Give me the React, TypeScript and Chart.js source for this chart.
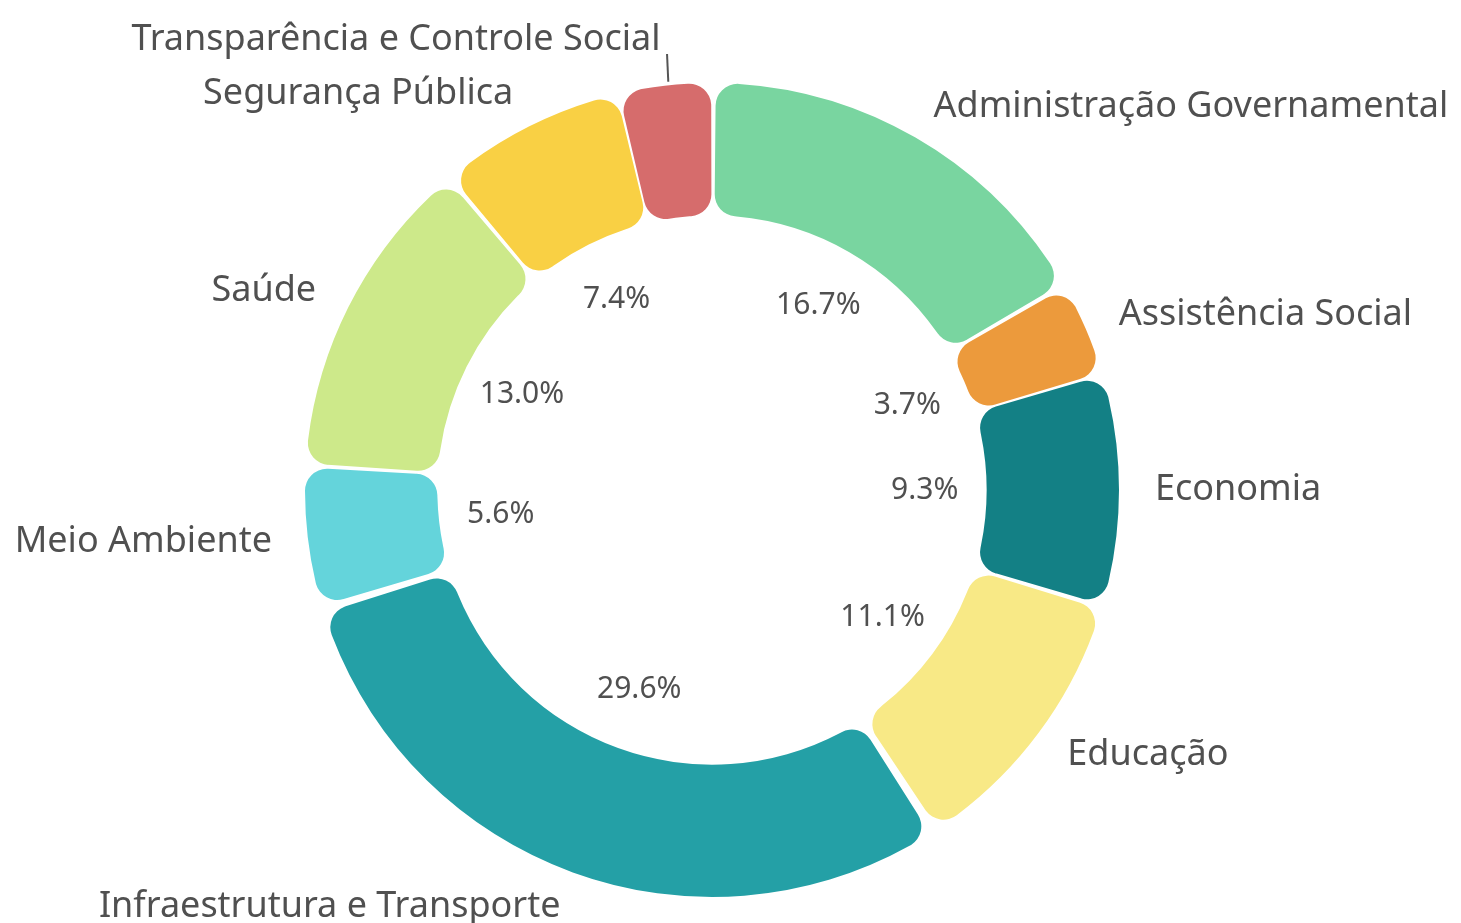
import React, { useEffect, useRef } from "react";
import { Chart, registerables } from "chart.js";

Chart.register(...registerables);

const categories = [
  "Administração Governamental",
  "Assistência Social",
  "Economia",
  "Educação",
  "Infraestrutura e Transporte",
  "Meio Ambiente",
  "Saúde",
  "Segurança Pública",
  "Transparência e Controle Social",
];
const counts = [9, 2, 5, 6, 16, 3, 7, 4, 2];
const colors = [
  "#79d5a0",
  "#ec9a3c",
  "#138085",
  "#f8e986",
  "#24a0a6",
  "#64d4db",
  "#cde98a",
  "#f9d044",
  "#d66c6c",
];
const showPercent = [true, true, true, true, true, true, true, true, false];

const TEXT_COLOR = "#505050";
const FONT_FAMILY = "'Noto Sans', 'Open Sans', sans-serif";

const labelPlugin = {
  id: "donutLabels",
  afterDatasetsDraw(chart: any) {
    const meta = chart.getDatasetMeta(0);
    const ctx = chart.ctx as CanvasRenderingContext2D;
    const total = counts.reduce((a, b) => a + b, 0);
    ctx.save();
    meta.data.forEach((arc: any, i: number) => {
      const { x, y, startAngle, endAngle, innerRadius, outerRadius } = arc.getProps(
        ["x", "y", "startAngle", "endAngle", "innerRadius", "outerRadius"],
        true
      );
      const mid = (startAngle + endAngle) / 2;
      const cos = Math.cos(mid);
      const sin = Math.sin(mid);
      if (showPercent[i]) {
        const pr = innerRadius - 56;
        const pct = ((counts[i] / total) * 100).toFixed(1) + "%";
        ctx.font = `30px ${FONT_FAMILY}`;
        ctx.fillStyle = TEXT_COLOR;
        ctx.textAlign = "center";
        ctx.textBaseline = "middle";
        ctx.fillText(pct, x + cos * pr, y + sin * pr);
      }
      const lr = outerRadius + 42;
      const lx = x + cos * lr;
      let ly = y + sin * lr;
      const nearTop = Math.abs(cos) < 0.2 && sin < 0;
      if (nearTop) {
        ly -= 10;
        ctx.strokeStyle = "#555";
        ctx.lineWidth = 2;
        ctx.beginPath();
        ctx.moveTo(x + cos * (outerRadius + 10) + 4, y + sin * (outerRadius + 10));
        ctx.lineTo(x + cos * (outerRadius + 38) + 6, y + sin * (outerRadius + 38));
        ctx.stroke();
      }
      ctx.font = `36px ${FONT_FAMILY}`;
      ctx.fillStyle = TEXT_COLOR;
      ctx.textBaseline = "middle";
      ctx.textAlign = cos >= 0 && !nearTop ? "left" : "right";
      ctx.fillText(categories[i], lx, ly);
    });
    ctx.restore();
  },
};

export default function App() {
  const canvasRef = useRef<HTMLCanvasElement | null>(null);

  useEffect(() => {
    if (!canvasRef.current) return;
    const chart = new Chart(canvasRef.current, {
      type: "doughnut",
      data: {
        labels: categories,
        datasets: [
          {
            data: counts,
            backgroundColor: colors,
            borderWidth: 0,
            borderRadius: 22,
            spacing: 12,
          },
        ],
      },
      options: {
        animation: false,
        responsive: true,
        maintainAspectRatio: false,
        cutout: "67%",
        rotation: 0,
        layout: { padding: { left: 305, right: 342, top: 83, bottom: 26 } },
        plugins: {
          legend: { display: false },
          tooltip: { enabled: false },
        },
      },
      plugins: [labelPlugin],
    });
    return () => chart.destroy();
  }, []);

  return (
    <div style={{ position: "fixed", left: 0, top: 0, width: 1461, height: 923, background: "#fff" }}>
      <canvas ref={canvasRef} />
    </div>
  );
}
